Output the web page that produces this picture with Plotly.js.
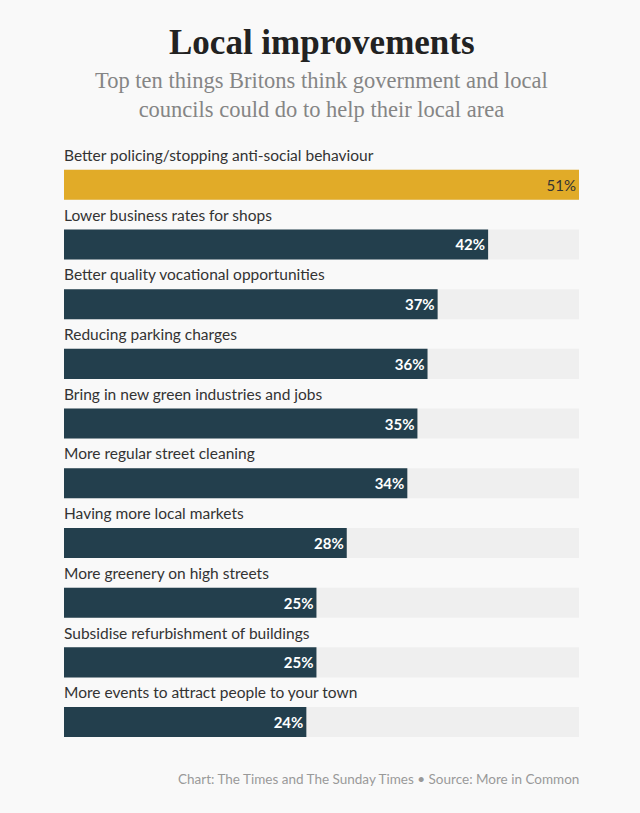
<!DOCTYPE html>
<html><head><meta charset="utf-8">
<script src="https://cdn.plot.ly/plotly-3.0.1.min.js"></script>
<style>html,body{margin:0;padding:0;background:#f9f9f9;}</style>
</head><body>
<div id="chart" style="width:640px;height:813px;"></div>
<script>
const categories = [
  "Better policing/stopping anti-social behaviour",
  "Lower business rates for shops",
  "Better quality vocational opportunities",
  "Reducing parking charges",
  "Bring in new green industries and jobs",
  "More regular street cleaning",
  "Having more local markets",
  "More greenery on high streets",
  "Subsidise refurbishment of buildings",
  "More events to attract people to your town"
];
const values = [51, 42, 37, 36, 35, 34, 28, 25, 25, 24];
const trackMax = 51;

const ypos = categories.map((c, i) => -i);
const barColors = values.map((v, i) => i === 0 ? "#e1ab28" : "#233f4d");
const textColors = values.map((v, i) => i === 0 ? "#333333" : "#ffffff");
const texts = values.map((v, i) => i === 0 ? v + "%" : "<b>" + v + "%</b>");

const track = {
  type: "bar", orientation: "h",
  x: categories.map(() => trackMax), y: ypos,
  width: 0.503, marker: {color: "#efefef"},
  hoverinfo: "skip", showlegend: false
};
const bars = {
  type: "bar", orientation: "h",
  x: values, y: ypos, width: 0.503,
  marker: {color: barColors},
  text: texts, textposition: "inside", insidetextanchor: "end",
  textfont: {family: "Lato, sans-serif", size: 15, color: textColors},
  cliponaxis: false, showlegend: false
};

const annotations = categories.map((c, i) => ({
  x: 0, y: -i + 0.5, xref: "x", yref: "y", xshift: -2,
  xanchor: "left", yanchor: "middle", showarrow: false,
  text: c, font: {family: "Lato, sans-serif", size: 15.5, color: "#333333"}
}));
annotations.push({
  x: 0.5, y: 1.164, xref: "paper", yref: "paper", xanchor: "center", yanchor: "middle",
  showarrow: false, text: "<b>Local improvements</b>",
  font: {family: "Liberation Serif, serif", size: 35, color: "#222222"}
});
annotations.push({
  x: 0.5, y: 1.0754, xref: "paper", yref: "paper", xanchor: "center", yanchor: "middle",
  showarrow: false, text: "Top ten things Britons think government and local<br>councils could do to help their local area",
  font: {family: "Liberation Serif, serif", size: 22.5, color: "#858585"}
});
annotations.push({
  x: 1, y: -0.0704, xref: "paper", yref: "paper", xanchor: "right", yanchor: "middle", xshift: 2,
  showarrow: false, text: "Chart: The Times and The Sunday Times • Source: More in Common",
  font: {family: "Lato, sans-serif", size: 13.5, color: "#999999"}
});

const layout = {
  width: 640, height: 813,
  paper_bgcolor: "#f9f9f9", plot_bgcolor: "#f9f9f9",
  margin: {l: 64, r: 61, t: 140, b: 76},
  barmode: "overlay",
  xaxis: {range: [0, trackMax], visible: false, fixedrange: true},
  yaxis: {range: [-9.25, 0.75], visible: false, fixedrange: true},
  annotations: annotations
};
Plotly.newPlot("chart", [track, bars], layout, {displayModeBar: false, staticPlot: true});
</script>
</body></html>
